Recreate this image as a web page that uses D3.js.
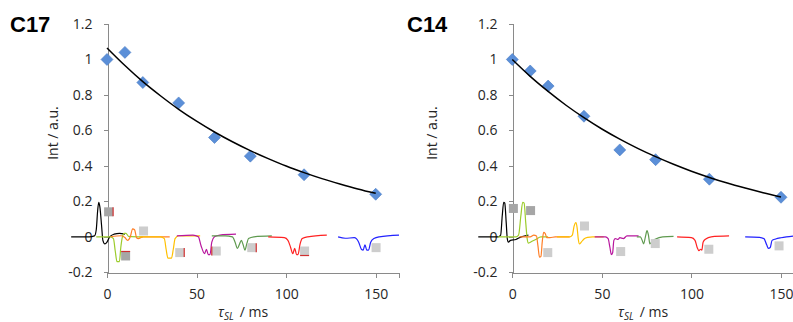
<!DOCTYPE html>
<html>
<head>
<meta charset="utf-8">
<script src="https://cdn.jsdelivr.net/npm/d3@7"></script>
<style>
  html, body { margin: 0; padding: 0; background: #fff; }
  svg { display: block; }
  .tick text { font-family: "Open Sans", "Liberation Sans", sans-serif; font-size: 14px; fill: #262626; }
  .axis path, .axis line { stroke: #8a8a8a; stroke-width: 1; shape-rendering: crispEdges; }
</style>
</head>
<body>
<svg id="chart" width="793" height="322"></svg>
<script>
// Spin-lock delay (ms) of the measured points
const tauDelay = [0, 10, 20, 40, 60, 80, 110, 150];

// Normalised intensities
const intC17 = [1.00, 1.04, 0.87, 0.755, 0.56, 0.455, 0.35, 0.24];
const intC14 = [1.00, 0.935, 0.85, 0.68, 0.49, 0.435, 0.325, 0.223];

// Exponential fit, sampled every 10 ms
const fitTau = [0, 10, 20, 30, 40, 50, 60, 70, 80, 90, 100, 110, 120, 130, 140, 150];
const fitC17 = [1.065, 0.966, 0.875, 0.794, 0.719, 0.652, 0.591, 0.536, 0.486, 0.441, 0.399, 0.362, 0.328, 0.298, 0.270, 0.245];
const fitC14 = [1.000, 0.905, 0.820, 0.742, 0.672, 0.608, 0.551, 0.499, 0.452, 0.409, 0.370, 0.335, 0.303, 0.275, 0.249, 0.225];

// Square markers beside each spectrum
const sqTauC17 = [0.9, 10.4, 20.4, 40.6, 61.0, 80.8, 110.3, 150.2];
const sqValC17 = [0.141, -0.108, 0.033, -0.089, -0.080, -0.061, -0.080, -0.061];
const sqTauC14 = [0.6, 10.2, 19.8, 40.3, 60.5, 79.8, 109.7, 148.9];
const sqValC14 = [0.160, 0.148, -0.089, 0.061, -0.083, -0.038, -0.070, -0.051];
// side of the square carrying a short red error mark (C17 only)
const errSideC17 = ["r", "t", "", "r", "l", "r", "b", ""];

// Axis ticks
const yTicks = [-0.2, 0, 0.2, 0.4, 0.6, 0.8, 1.0, 1.2];
const xTicks = [0, 50, 100, 150];

// Inset spectra, one per delay: [tau, intensity] pairs
const traceColors = ["#000000", "#9ccc2c", "#ff7f27", "#ffc000", "#b8179e", "#5f9a4f", "#ff2222", "#2222ff"];

const specC17 = [
  [[-20,0],[-10,0],[-7,0.005],[-6,0.04],[-5.2,0.15],[-4.6,0.195],[-4,0.17],[-3,0.06],[-2.3,-0.02],[-1.2,-0.04],[0,-0.03],[1.5,0],[4,0.015],[7,0.02],[10,0.015]],
  [[-6,0],[2,0],[3.6,-0.01],[4.6,-0.08],[5.6,-0.14],[6.9,-0.14],[7.7,-0.06],[8.6,0],[9.6,0.02],[10.6,0.02],[12,0.003],[20,0]],
  [[2,0],[8,0.006],[10,-0.004],[11.5,-0.02],[13,0],[14.3,0.045],[15.4,0.04],[16.5,-0.005],[17.5,-0.01],[20,0],[35,0]],
  [[18,0],[30,0],[32,-0.01],[33,-0.07],[34,-0.12],[36,-0.12],[37,-0.07],[38,-0.01],[40,0.006],[45,0.005],[52,0.005]],
  [[39,0.005],[48,0.01],[51,0],[52.5,-0.05],[54.5,-0.095],[55.5,-0.07],[56.5,-0.1],[57.5,-0.1],[58.5,-0.03],[60,0],[63,0.01],[72,0.015]],
  [[58.5,0.005],[66,0.005],[70,0],[71.5,-0.03],[72.8,-0.065],[74,-0.04],[75,-0.02],[76,-0.045],[77,-0.075],[78,-0.04],[79,-0.01],[82,0],[92,0.005]],
  [[90,0],[99,-0.005],[101,-0.02],[102.5,-0.06],[103.7,-0.095],[104.8,-0.065],[105.8,-0.1],[106.6,-0.1],[107.8,-0.04],[109,-0.01],[112,0],[122.7,0.01]],
  [[129,0],[133,-0.008],[138,-0.005],[140.5,-0.03],[142,-0.07],[143,-0.075],[144,-0.045],[145,-0.075],[146,-0.075],[147.2,-0.03],[149,-0.01],[152,0],[163,0.01]]
];

const specC14 = [
  [[-19,0],[-8,0],[-6.5,0.01],[-5.6,0.12],[-4.8,0.195],[-4.2,0.19],[-3.4,0.08],[-2.8,-0.01],[-2.2,-0.03],[-1,-0.02],[2,-0.015],[5,0],[9,0.01]],
  [[-8,0],[2,0],[3.5,0.01],[4.8,0.12],[5.8,0.195],[6.6,0.19],[7.5,0.08],[8.3,-0.01],[9,-0.035],[11,-0.025],[13,-0.015],[16,0],[20,0]],
  [[4,0],[10,0],[12,0.01],[13.5,0.005],[14.3,-0.05],[15.2,-0.115],[16,-0.11],[16.7,-0.03],[17.5,0.025],[18.3,0.02],[19.3,-0.005],[21,-0.005],[24,0],[32,0]],
  [[25,0],[32,0],[33.5,0.01],[34.5,0.06],[35.5,0.08],[36.2,0.05],[36.8,-0.01],[37.5,-0.04],[38.5,-0.03],[40,-0.012],[42,-0.003],[45,0],[51,0]],
  [[46,0],[52,0],[53.5,-0.01],[54.5,-0.06],[55.3,-0.1],[56,-0.09],[56.7,-0.02],[57.5,-0.01],[59,-0.015],[60,-0.005],[62,-0.01],[64,0.005],[70.5,0.005]],
  [[69.5,0],[71.5,0],[72.5,-0.02],[73.3,-0.04],[74.3,0],[75.2,0.035],[76,0.01],[76.8,-0.04],[78,-0.025],[80,-0.012],[84,0],[90,0.003]],
  [[92,0],[100,-0.005],[102,-0.02],[103.2,-0.06],[104.2,-0.078],[105.2,-0.07],[105.8,-0.075],[106.5,-0.03],[108,-0.012],[111,0],[121,0.005]],
  [[130,0],[138,-0.003],[140.5,-0.01],[142,-0.045],[143,-0.065],[144,-0.06],[145,-0.02],[147,-0.012],[150,-0.005],[153,0],[157.5,0.005]]
];

const xMax = 163;

const panels = [
  { title: "C17", titleX: 10, axisX: 107, yLabelX: 58, xLabelX: 218,
    pts: intC17, fit: fitC17, spec: specC17, sqT: sqTauC17, sqV: sqValC17, err: errSideC17 },
  { title: "C14", titleX: 407, axisX: 512.3, yLabelX: 437, xLabelX: 618,
    pts: intC14, fit: fitC14, spec: specC14, sqT: sqTauC14, sqV: sqValC14, err: null }
];

const svg = d3.select("#chart");
const plotW = 292;
const yTop = 24, yBottom = 272.3;

panels.forEach(p => {
  const x = d3.scaleLinear().domain([0, xMax]).range([p.axisX, p.axisX + plotW]);
  const y = d3.scaleLinear().domain([-0.2, 1.2]).range([yBottom, yTop]);
  const g = svg.append("g");

  // panel title
  g.append("text")
    .attr("x", p.titleX).attr("y", 32)
    .attr("font-family", "Liberation Sans, Arial, sans-serif")
    .attr("font-weight", "bold").attr("font-size", 22)
    .attr("fill", "#000")
    .text(p.title);

  // axes
  const fmt = d => String(+d.toFixed(1));
  g.append("g").attr("class", "axis")
    .attr("transform", `translate(${Math.round(p.axisX) + 0.5},0)`)
    .call(d3.axisLeft(y.copy().range([yBottom, yTop])).tickValues(yTicks).tickFormat(fmt)
      .tickSize(4).tickSizeOuter(4).tickPadding(11));
  g.append("g").attr("class", "axis")
    .attr("transform", `translate(0,${Math.round(yBottom) + 0.5})`)
    .call(d3.axisBottom(x).tickValues(xTicks).tickFormat(fmt)
      .tickSize(5).tickSizeOuter(5).tickPadding(12));

  // axis titles
  g.append("text")
    .attr("transform", `translate(${p.yLabelX},133) rotate(-90)`)
    .attr("text-anchor", "middle")
    .attr("font-family", "Open Sans, Liberation Sans, sans-serif")
    .attr("font-size", 14).attr("fill", "#262626")
    .text("Int / a.u.");

  const xt = g.append("text")
    .attr("x", p.xLabelX).attr("y", 317)
    .attr("font-family", "Open Sans, Liberation Sans, sans-serif")
    .attr("font-size", 14).attr("fill", "#262626");
  xt.append("tspan").attr("font-style", "italic").text("τ");
  xt.append("tspan").attr("font-style", "italic").attr("font-size", 10).attr("dy", 3).text("SL");
  xt.append("tspan").attr("dy", -3).attr("dx", 6).text("/ ms");

  // inset spectra
  const specLine = d3.line().x(d => x(d[0])).y(d => y(d[1])).curve(d3.curveMonotoneX);
  g.append("g").selectAll("path").data(p.spec).join("path")
    .attr("d", specLine)
    .attr("fill", "none")
    .attr("stroke", (d, i) => traceColors[i])
    .attr("stroke-width", 1.2)
    .attr("stroke-linejoin", "round");

  // grey squares
  const sq = 9;
  const sqG = g.append("g");
  p.sqT.forEach((t, i) => {
    const cx = x(t), cy = y(p.sqV[i]);
    sqG.append("rect")
      .attr("x", cx - sq / 2).attr("y", cy - sq / 2)
      .attr("width", sq).attr("height", sq)
      .attr("fill", i < 2 ? "#a6a6a6" : "#cdcdcd");
    if (p.err && p.err[i]) {
      const s = p.err[i];
      const seg = {
        r: [cx + sq / 2, cy - sq / 2, cx + sq / 2, cy + sq / 2],
        l: [cx - sq / 2, cy - sq / 2, cx - sq / 2, cy + sq / 2],
        t: [cx - sq / 2, cy - sq / 2, cx + sq / 2, cy - sq / 2],
        b: [cx - sq / 2, cy + sq / 2, cx + sq / 2, cy + sq / 2]
      }[s];
      sqG.append("line")
        .attr("x1", seg[0]).attr("y1", seg[1]).attr("x2", seg[2]).attr("y2", seg[3])
        .attr("stroke", "#d03030").attr("stroke-width", 1.2);
    }
  });

  // measured points
  g.append("g").selectAll("path").data(p.pts).join("path")
    .attr("transform", (d, i) => `translate(${x(tauDelay[i])},${y(d)})`)
    .attr("d", "M0,-6L6,0L0,6L-6,0Z")
    .attr("fill", "#5b8fd8")
    .attr("stroke", "#4a7cc4")
    .attr("stroke-width", 0.6);

  // fitted decay
  const fitLine = d3.line().x((d, i) => x(fitTau[i])).y(d => y(d)).curve(d3.curveMonotoneX);
  g.append("path")
    .attr("d", fitLine(p.fit))
    .attr("fill", "none")
    .attr("stroke", "#000")
    .attr("stroke-width", 1.5);
});
</script>
</body>
</html>
